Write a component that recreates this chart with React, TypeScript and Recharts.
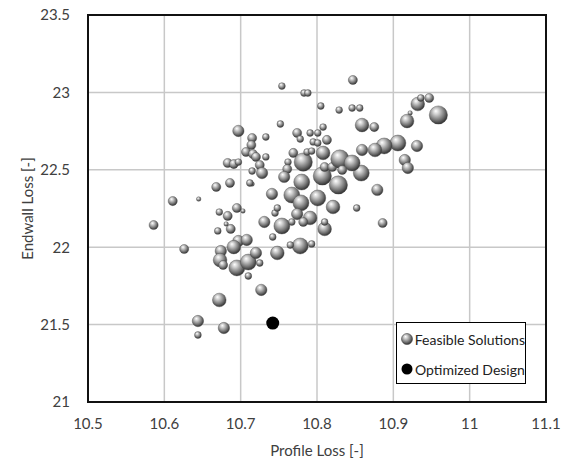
import React from "react";
import {
  ScatterChart,
  Scatter,
  XAxis,
  YAxis,
  ZAxis,
  CartesianGrid,
  ReferenceArea,
} from "recharts";

// profile loss / endwall loss / bubble size of each feasible solution
const feasibleX = [
  10.586, 10.611, 10.645, 10.626, 10.644, 10.644, 10.678, 10.672, 10.727, 10.668,
  10.686, 10.715, 10.672, 10.683, 10.695, 10.703, 10.67, 10.687, 10.681, 10.731,
  10.741, 10.745, 10.742, 10.697, 10.708, 10.691, 10.674, 10.673, 10.695, 10.71,
  10.72, 10.725, 10.71, 10.677, 10.748, 10.754, 10.783, 10.788, 10.805, 10.752,
  10.697, 10.715, 10.714, 10.733, 10.774, 10.778, 10.791, 10.801, 10.808, 10.813,
  10.707, 10.716, 10.72, 10.733, 10.683, 10.691, 10.697, 10.715, 10.725, 10.728,
  10.712, 10.769, 10.762, 10.761, 10.757, 10.782, 10.78, 10.767, 10.808, 10.807,
  10.787, 10.793, 10.795, 10.801, 10.81, 10.82, 10.847, 10.829, 10.846, 10.856,
  10.859, 10.875, 10.932, 10.936, 10.947, 10.922, 10.918, 10.959, 10.906, 10.888,
  10.876, 10.859, 10.931, 10.915, 10.919, 10.879, 10.858, 10.828, 10.83, 10.846,
  10.833, 10.821, 10.852, 10.886, 10.801, 10.779, 10.791, 10.774, 10.782, 10.81,
  10.754, 10.778, 10.765, 10.793, 10.81, 10.748, 10.767,
];
const feasibleY = [
  22.143, 22.298, 22.311, 21.988, 21.523, 21.433, 21.478, 21.659, 21.724, 22.389,
  22.415, 22.408, 22.227, 22.202, 22.253, 22.234, 22.105, 22.118, 22.15, 22.163,
  22.344, 22.221, 22.066, 22.04, 22.047, 22.001, 21.975, 21.917, 21.866, 21.904,
  21.963, 21.898, 21.814, 21.885, 21.963, 23.041, 22.996, 22.996, 22.912, 22.796,
  22.751, 22.705, 22.66, 22.712, 22.738, 22.699, 22.738, 22.738, 22.776, 22.693,
  22.615, 22.602, 22.583, 22.583, 22.544, 22.537, 22.55, 22.492, 22.531, 22.479,
  22.415, 22.609, 22.55, 22.505, 22.454, 22.55, 22.421, 22.337, 22.609, 22.46,
  22.615, 22.621, 22.68, 22.673, 22.518, 22.518, 23.08, 22.886, 22.899, 22.899,
  22.789, 22.776, 22.925, 22.964, 22.964, 22.867, 22.815, 22.854, 22.673, 22.654,
  22.628, 22.628, 22.654, 22.563, 22.512, 22.37, 22.479, 22.402, 22.57, 22.544,
  22.499, 22.26, 22.253, 22.156, 22.318, 22.286, 22.189, 22.214, 22.163, 22.118,
  22.137, 22.008, 22.014, 22.021, 22.163, 22.253, 22.163,
];
const feasibleSize = [
  4, 4, 2, 4, 5, 3, 5, 6, 5, 4,
  4, 2, 3, 4, 4, 2, 3, 4, 2, 5,
  5, 3, 3, 5, 5, 6, 5, 6, 7, 7,
  5, 3, 3, 4, 6, 3, 3, 3, 3, 3,
  5, 4, 4, 3, 4, 3, 3, 3, 3, 4,
  4, 4, 4, 3, 4, 4, 3, 3, 4, 5,
  3, 4, 3, 4, 5, 8, 7, 7, 6, 8,
  3, 3, 3, 3, 4, 4, 4, 3, 3, 3,
  6, 4, 6, 3, 4, 2, 6, 8, 7, 7,
  6, 5, 5, 5, 5, 5, 7, 8, 8, 7,
  4, 6, 3, 4, 7, 7, 6, 5, 4, 6,
  7, 7, 3, 3, 3, 3, 3,
];

const optimizedX = [10.742];
const optimizedY = [21.51];

const xTicks = [10.5, 10.6, 10.7, 10.8, 10.9, 11, 11.1];
const yTicks = [21, 21.5, 22, 22.5, 23, 23.5];

const feasible = feasibleX.map((x, i) => ({
  x,
  y: feasibleY[i],
  z: feasibleSize[i] * feasibleSize[i],
}));
const optimized = optimizedX.map((x, i) => ({ x, y: optimizedY[i], z: 36 }));

const FONT = "Lato, 'Open Sans', sans-serif";
const TEXT = "#404040";

const SphereGradient = ({ id }: { id: string }) => (
  <radialGradient id={id} cx="42%" cy="38%" r="62%" fx="36%" fy="28%">
    <stop offset="0%" stopColor="#ffffff" />
    <stop offset="28%" stopColor="#cccccc" />
    <stop offset="68%" stopColor="#7a7a7a" />
    <stop offset="100%" stopColor="#333333" />
  </radialGradient>
);

const Sphere = (props: any) => {
  const { cx, cy } = props;
  if (cx == null || cy == null) return null;
  const r = props.width ? props.width / 2 : Math.sqrt((props.size || 0) / Math.PI);
  return (
    <circle cx={cx} cy={cy} r={r} fill="url(#sphere)" stroke="#4a4a4a" strokeWidth={0.4} />
  );
};

const BlackDot = (props: any) => {
  const { cx, cy } = props;
  if (cx == null || cy == null) return null;
  return <circle cx={cx} cy={cy} r={6.5} fill="#000" />;
};

const LegendBox = () => (
  <div
    style={{
      position: "absolute",
      left: 396,
      top: 322,
      width: 130,
      height: 62,
      border: "1.5px solid #000",
      background: "#fff",
      fontFamily: FONT,
      fontSize: 14,
      color: "#222",
      boxSizing: "border-box",
      padding: "3px 0 0 4px",
      whiteSpace: "nowrap",
    }}
  >
    <div style={{ display: "flex", alignItems: "center", height: 26 }}>
      <svg width={12} height={12} style={{ marginRight: 2 }}>
        <defs>
          <SphereGradient id="sphereLegend" />
        </defs>
        <circle cx={6} cy={6} r={5.5} fill="url(#sphereLegend)" stroke="#444" strokeWidth={0.6} />
      </svg>
      Feasible Solutions
    </div>
    <div style={{ display: "flex", alignItems: "center", height: 26, marginTop: 4 }}>
      <svg width={12} height={12} style={{ marginRight: 2 }}>
        <circle cx={6} cy={6} r={5.5} fill="#000" />
      </svg>
      Optimized Design
    </div>
  </div>
);

export default function App() {
  return (
    <div style={{ position: "absolute", left: 0, top: 0, width: 570, height: 461 }}>
      <ScatterChart
        width={570}
        height={461}
        margin={{ top: 15, right: 24, bottom: 0, left: 20 }}
      >
        <defs>
          <SphereGradient id="sphere" />
        </defs>
        <CartesianGrid stroke="#c8c8c8" strokeWidth={1.5} />
        <XAxis
          type="number"
          dataKey="x"
          domain={[10.5, 11.1]}
          ticks={xTicks}
          allowDataOverflow
          height={59}
          tickLine={false}
          axisLine={false}
          tickFormatter={(v: number) => String(Number(v.toFixed(1)))}
          tick={{ fill: TEXT, fontSize: 15, fontFamily: FONT }}
          tickMargin={10}
          label={{
            value: "Profile Loss [-]",
            position: "insideBottom",
            offset: 5,
            fill: TEXT,
            fontSize: 15,
            fontFamily: FONT,
          }}
        />
        <YAxis
          type="number"
          dataKey="y"
          domain={[21, 23.5]}
          ticks={yTicks}
          allowDataOverflow
          width={68}
          tickLine={false}
          axisLine={false}
          tick={{ fill: TEXT, fontSize: 15, fontFamily: FONT }}
          tickMargin={12}
          label={{
            value: "Endwall Loss [-]",
            angle: -90,
            position: "insideLeft",
            offset: 8,
            style: { textAnchor: "middle" },
            fill: TEXT,
            fontSize: 15,
            fontFamily: FONT,
          }}
        />
        <ZAxis type="number" dataKey="z" domain={[0, 100]} range={[0, 130 * Math.PI]} />
        <ReferenceArea
          x1={10.5}
          x2={11.1}
          y1={21}
          y2={23.5}
          fill="none"
          fillOpacity={0}
          stroke="#111"
          strokeWidth={2}
          strokeOpacity={1}
        />
        <Scatter
          name="Feasible Solutions"
          data={feasible}
          shape={Sphere}
          isAnimationActive={false}
        />
        <Scatter
          name="Optimized Design"
          data={optimized}
          shape={BlackDot}
          isAnimationActive={false}
        />
      </ScatterChart>
      <LegendBox />
    </div>
  );
}
